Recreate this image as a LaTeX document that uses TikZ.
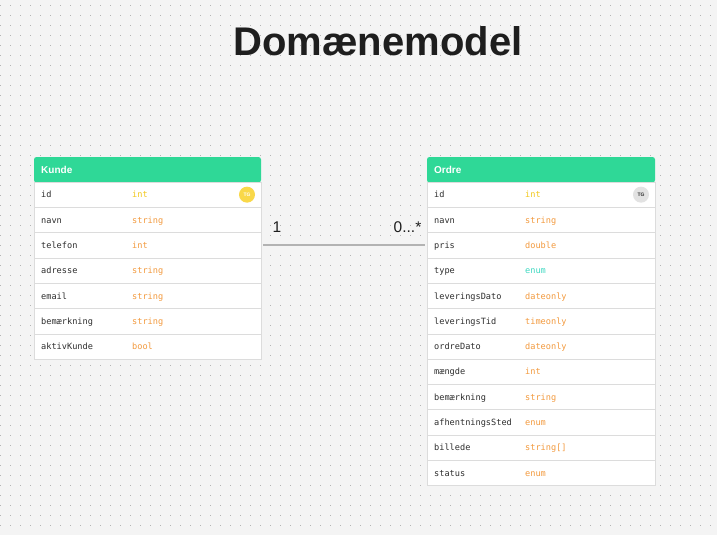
\documentclass[tikz,border=0pt]{standalone}
\usepackage{fontspec}
\setmainfont{Liberation Sans}
\newfontfamily\monofam{DejaVu Sans Mono}
\definecolor{bgc}{HTML}{F4F4F4}
\definecolor{dotc}{HTML}{B4B4B4}
\definecolor{headgreen}{HTML}{2FD897}
\definecolor{rowline}{HTML}{DCDCDC}
\definecolor{fieldtxt}{HTML}{2E2E2E}
\definecolor{typeorange}{HTML}{F39A3E}
\definecolor{typeyellow}{HTML}{F2C81C}
\definecolor{typeteal}{HTML}{3FD9C2}
\definecolor{badgeyellow}{HTML}{F9D849}
\definecolor{badgegrey}{HTML}{E2E2E2}
\definecolor{linkc}{HTML}{B3B3B3}
\definecolor{titlec}{HTML}{1E1E1E}
\tikzset{
  tabrow/.style={draw=rowline, fill=white, minimum height=25.3pt, inner sep=0pt, outer sep=0pt, line width=0.6pt},
  tabhead/.style={fill=headgreen, minimum height=25.5pt, inner sep=0pt, outer sep=0pt, rounded corners=2.5pt},
  headtxt/.style={anchor=base west, inner sep=0pt, text=white, font=\bfseries\fontsize{10}{12}\selectfont},
  fname/.style={anchor=base west, inner sep=0pt, text=fieldtxt, font=\monofam\fontsize{8.6}{10}\selectfont},
  badge/.style={circle, minimum size=16pt, inner sep=0pt, font=\bfseries\fontsize{5}{6}\selectfont},
  cardlbl/.style={anchor=base, inner sep=0pt, text=titlec, font=\fontsize{15.5}{18}\selectfont},
  link/.style={draw=linkc, line width=2.2pt}
}
\begin{document}
\begin{tikzpicture}[x=1pt,y=-1pt]
\useasboundingbox (0,0) rectangle (717,535);
\fill[bgc] (0,0) rectangle (717,535);
\foreach \x in {0,10,...,710}{
  \foreach \y in {5,15,...,535}{
    \fill[dotc] (\x,\y) rectangle ++(1.4,1.4);
  }
}
% title
\node[anchor=base, inner sep=0pt, text=titlec, font=\bfseries\fontsize{40}{46}\selectfont] (title) at (378,56) {Domænemodel};

% Kunde table
\node[tabhead, minimum width=227pt, anchor=north west] (khead) at (34,157) {};
\node[headtxt] (ktitle) at (41,173) {Kunde};
\foreach \n/\f/\t/\c [count=\i] in {k1/id/int/typeyellow, k2/navn/string/typeorange, k3/telefon/int/typeorange, k4/adresse/string/typeorange, k5/email/string/typeorange, k6/bemærkning/string/typeorange, k7/aktivKunde/bool/typeorange}{
  \node[tabrow, minimum width=227pt, anchor=north west] (\n) at (34,{182+(\i-1)*25.3}) {};
  \node[fname] (\n-f) at ([xshift=7pt,yshift=-3.2pt]\n.west) {\f};
  \node[fname, text=\c] (\n-t) at ([xshift=98pt,yshift=-3.2pt]\n.west) {\t};
}
\node[badge, fill=badgeyellow, text=white] (kbadge) at ([xshift=-14pt]k1.east) {TG};

% Ordre table
\node[tabhead, minimum width=228pt, anchor=north west] (ohead) at (427,157) {};
\node[headtxt] (otitle) at (434,173) {Ordre};
\foreach \n/\f/\t/\c [count=\i] in {o1/id/int/typeyellow, o2/navn/string/typeorange, o3/pris/double/typeorange, o4/type/enum/typeteal, o5/leveringsDato/dateonly/typeorange, o6/leveringsTid/timeonly/typeorange, o7/ordreDato/dateonly/typeorange, o8/mængde/int/typeorange, o9/bemærkning/string/typeorange, o10/afhentningsSted/enum/typeorange, o11/billede/string[]/typeorange, o12/status/enum/typeorange}{
  \node[tabrow, minimum width=228pt, anchor=north west] (\n) at (427,{182+(\i-1)*25.3}) {};
  \node[fname] (\n-f) at ([xshift=7pt,yshift=-3.2pt]\n.west) {\f};
  \node[fname, text=\c] (\n-t) at ([xshift=98pt,yshift=-3.2pt]\n.west) {\t};
}
\node[badge, fill=badgegrey, text=fieldtxt] (obadge) at ([xshift=-14pt]o1.east) {TG};

% connector
\draw[link] ([xshift=2pt]k3.east) -- ([xshift=-2pt]o3.west);
\node[cardlbl] (lbl1) at (277,232) {1};
\node[cardlbl] (lbl2) at (407.5,232) {0...*};
\end{tikzpicture}
\end{document}
